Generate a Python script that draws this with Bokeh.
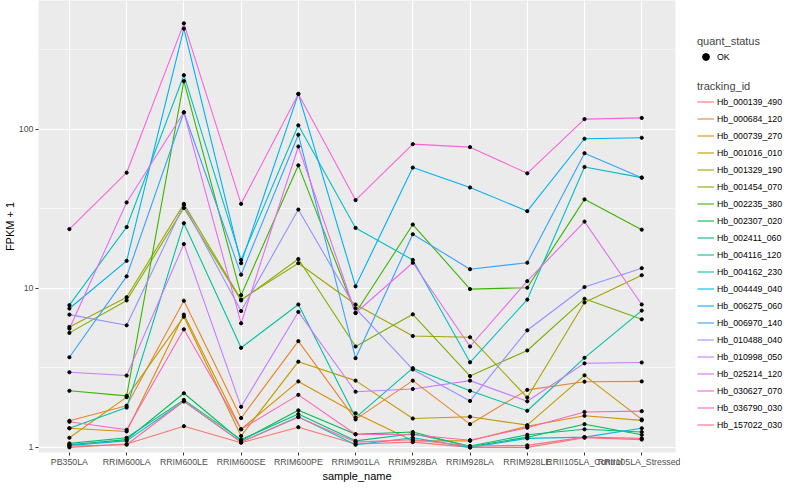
from bokeh.plotting import figure
from bokeh.models import Range1d, FixedTicker, Legend, LegendItem, BasicTickFormatter, Spacer
from bokeh.layouts import row, column
from bokeh.embed import file_html
from bokeh.resources import INLINE

samples = ["PB350LA", "RRIM600LA", "RRIM600LE", "RRIM600SE", "RRIM600PE", "RRIM901LA",
           "RRIM928BA", "RRIM928LA", "RRIM928LE", "RRII105LA_Control", "RRII105LA_Stressed"]

tracking_ids = ["Hb_000139_490", "Hb_000684_120", "Hb_000739_270", "Hb_001016_010", "Hb_001329_190",
                "Hb_001454_070", "Hb_002235_380", "Hb_002307_020", "Hb_002411_060", "Hb_004116_120",
                "Hb_004162_230", "Hb_004449_040", "Hb_006275_060", "Hb_006970_140", "Hb_010488_040",
                "Hb_010998_050", "Hb_025214_120", "Hb_030627_070", "Hb_036790_030", "Hb_157022_030"]

colors = ["#F8766D", "#EA8331", "#D89000", "#C09B00", "#A3A500", "#7CAE00", "#39B600", "#00BB4E",
          "#00BF7D", "#00C1A3", "#00BFC4", "#00BAE0", "#00B0F6", "#35A2FF", "#9590FF", "#C77CFF",
          "#E76BF3", "#FA62DB", "#FF62BC", "#FF6C91"]

# FPKM + 1 per sample (order of `samples`)
hb_000139_490 = [1.00, 1.05, 1.36, 1.07, 1.34, 1.05, 1.08, 1.00, 1.00, 1.15, 1.12]
hb_000684_120 = [1.47, 1.83, 8.36, 1.53, 4.66, 1.50, 2.63, 1.40, 2.30, 2.59, 2.60]
hb_000739_270 = [1.32, 1.26, 6.84, 1.30, 2.60, 1.64, 1.10, 1.10, 1.36, 1.58, 1.48]
hb_001016_010 = [1.15, 2.07, 6.64, 1.18, 3.46, 2.63, 1.52, 1.56, 1.38, 2.84, 1.50]
hb_001329_190 = [5.72, 8.80, 34.0, 8.50, 14.4, 7.92, 5.02, 4.93, 2.06, 8.15, 12.1]
hb_001454_070 = [5.25, 8.40, 32.0, 8.40, 15.3, 4.31, 6.87, 2.81, 4.07, 8.60, 6.39]
hb_002235_380 = [2.27, 2.11, 201.0, 9.06, 59.4, 7.00, 25.2, 9.90, 10.1, 36.3, 23.4]
hb_002307_020 = [1.04, 1.12, 2.19, 1.10, 1.71, 1.21, 1.25, 1.01, 1.16, 1.40, 1.20]
hb_002411_060 = [1.06, 1.15, 1.99, 1.12, 1.62, 1.10, 1.22, 1.02, 1.20, 1.30, 1.25]
hb_004116_120 = [1.32, 1.78, 25.7, 4.23, 7.92, 1.54, 3.15, 2.27, 1.70, 3.66, 7.25]
hb_004162_230 = [7.84, 24.3, 219.0, 15.1, 106.0, 24.0, 15.1, 3.43, 8.50, 58.0, 49.7]
hb_004449_040 = [1.03, 1.10, 1.95, 1.08, 1.56, 1.04, 1.15, 1.00, 1.14, 1.16, 1.32]
hb_006275_060 = [7.47, 14.9, 430.0, 14.4, 167.0, 10.3, 57.5, 43.1, 30.6, 87.3, 88.5]
hb_006970_140 = [3.69, 11.9, 128.0, 12.2, 92.5, 3.64, 21.9, 13.2, 14.5, 70.8, 49.7]
hb_010488_040 = [6.84, 5.86, 33.5, 7.20, 31.3, 7.50, 3.09, 1.96, 5.45, 10.2, 13.4]
hb_010998_050 = [2.97, 2.83, 19.0, 1.80, 7.11, 2.24, 2.33, 2.63, 1.95, 3.38, 3.42]
hb_025214_120 = [5.58, 34.7, 128.0, 6.03, 78.0, 7.00, 14.5, 4.31, 11.1, 26.3, 7.92]
hb_030627_070 = [23.6, 53.4, 464.0, 34.0, 167.0, 35.9, 80.7, 77.3, 52.9, 116.0, 118.0]
hb_036790_030 = [1.45, 1.29, 5.53, 1.30, 2.14, 1.21, 1.20, 1.11, 1.33, 1.67, 1.69]
hb_157022_030 = [1.02, 1.04, 1.95, 1.08, 1.55, 1.08, 1.12, 1.02, 1.03, 1.16, 1.14]

series = [hb_000139_490, hb_000684_120, hb_000739_270, hb_001016_010, hb_001329_190,
          hb_001454_070, hb_002235_380, hb_002307_020, hb_002411_060, hb_004116_120,
          hb_004162_230, hb_004449_040, hb_006275_060, hb_006970_140, hb_010488_040,
          hb_010998_050, hb_025214_120, hb_030627_070, hb_036790_030, hb_157022_030]

quant_status = ["OK"]
y_ticks = [1, 10, 100]
y_minor = [3.1623, 31.623, 316.23]

FONT = "Liberation Sans"
NAN = float("nan")
x_idx = list(range(len(samples)))

p = figure(width=680, height=484,
           x_range=Range1d(-0.54, len(samples) - 1 + 0.59),
           y_range=Range1d(0.929, 646),
           y_axis_type="log", output_backend="svg", toolbar_location=None,
           min_border_left=30, min_border_right=5, min_border_top=0, min_border_bottom=24)
p.background_fill_color = "#EBEBEB"
p.border_fill_color = "white"
p.outline_line_color = None

for ys, c in zip(series, colors):
    p.line(x_idx, ys, line_color=c, line_width=1.1)
for ys in series:
    p.scatter(x_idx, ys, size=3.2, color="black")

xa = p.xaxis[0]
xa.ticker = FixedTicker(ticks=x_idx)
xa.major_label_overrides = {i: s for i, s in enumerate(samples)}
xa.axis_label = "sample_name"

ya = p.yaxis[0]
ya.ticker = FixedTicker(ticks=y_ticks, minor_ticks=y_minor)
ya.formatter = BasicTickFormatter()
ya.major_label_overrides = {t: str(t) for t in y_ticks}
ya.axis_label = "FPKM + 1"

for ax in (xa, ya):
    ax.axis_line_color = None
    ax.major_tick_line_color = "#333333"
    ax.major_tick_out = 3
    ax.major_tick_in = 0
    ax.minor_tick_line_color = None
    ax.major_label_text_font = FONT
    ax.major_label_text_font_size = "8.8px"
    ax.major_label_text_color = "#4D4D4D"
    ax.major_label_standoff = 1
    ax.axis_label_text_font = FONT
    ax.axis_label_text_font_size = "11px"
    ax.axis_label_text_font_style = "normal"
    ax.axis_label_text_color = "black"
    ax.axis_label_standoff = 0

p.xgrid.grid_line_color = "white"
p.xgrid.grid_line_width = 1.1
p.ygrid.grid_line_color = "white"
p.ygrid.grid_line_width = 1.1
p.ygrid.minor_grid_line_color = "white"
p.ygrid.minor_grid_line_width = 0.55


def legend_fig(h):
    f = figure(width=104, height=h, x_range=Range1d(0, 1), y_range=Range1d(0, 1),
               output_backend="svg", toolbar_location=None,
               x_axis_location=None, y_axis_location=None, min_border=0)
    f.grid.visible = False
    f.outline_line_color = None
    f.background_fill_color = "white"
    f.border_fill_color = "white"
    return f


def style_legend(L):
    L.location = "top_left"
    L.margin = 17
    L.padding = 0
    L.spacing = 0
    L.border_line_color = None
    L.background_fill_alpha = 0
    L.label_text_font = FONT
    L.label_text_font_size = "8.8px"
    L.label_text_color = "black"
    L.label_height = 17
    L.glyph_height = 17
    L.glyph_width = 17
    L.label_standoff = 3
    L.title_text_font = FONT
    L.title_text_font_size = "11px"
    L.title_text_font_style = "normal"
    L.title_standoff = 1


leg1 = legend_fig(45)
r_ok = leg1.scatter(x=[NAN], y=[NAN], size=4, color="black")
L1 = Legend(items=[LegendItem(label=quant_status[0], renderers=[r_ok])], title="quant_status")
style_legend(L1)
leg1.add_layout(L1)

leg2 = legend_fig(421)
items = []
for tid, c in zip(tracking_ids, colors):
    r = leg2.line(x=[NAN], y=[NAN], line_color=c, line_width=1.1)
    items.append(LegendItem(label=tid, renderers=[r]))
L2 = Legend(items=items, title="tracking_id")
style_legend(L2)
leg2.add_layout(L2)

layout = row(p, column(Spacer(width=104, height=18), leg1, leg2))

open("out.html", "w").write(file_html(layout, INLINE))
